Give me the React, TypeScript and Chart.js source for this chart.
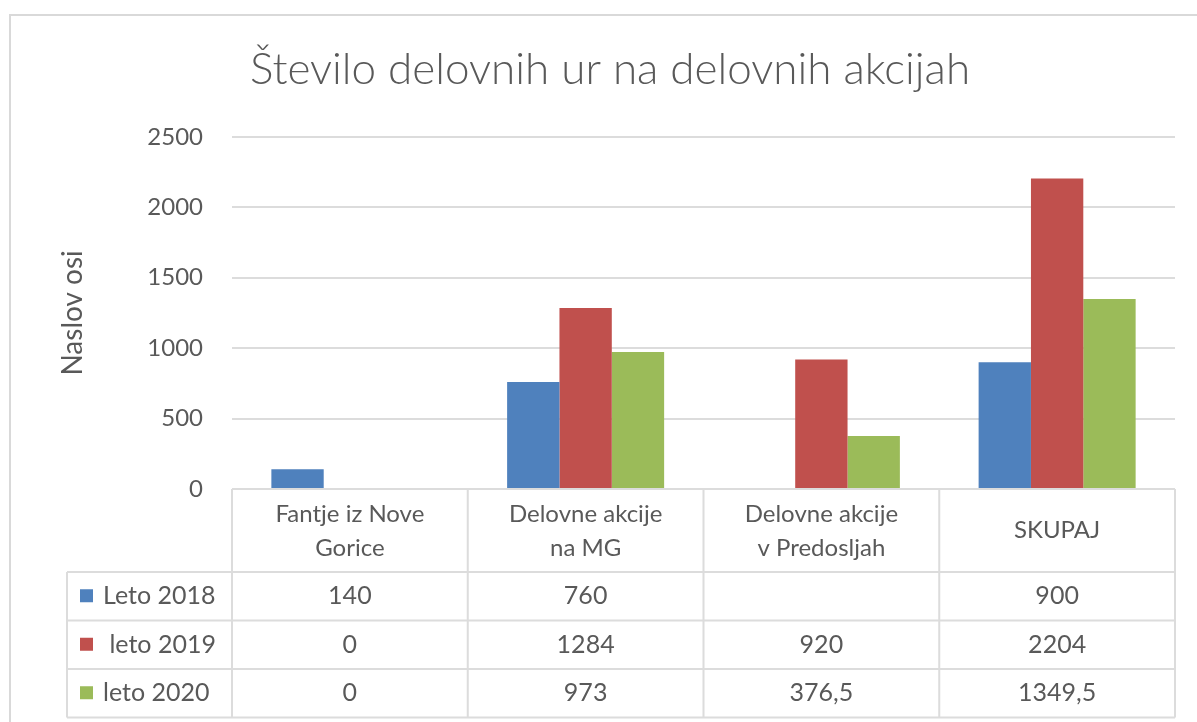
import React, { useEffect, useRef } from 'react';
import { Chart, registerables } from 'chart.js';

Chart.register(...registerables);

const chartTitle = 'Število delovnih ur na delovnih akcijah';
const axisTitle = 'Naslov osi';
const categories: string[][] = [
  ['Fantje iz Nove', 'Gorice'],
  ['Delovne akcije', 'na MG'],
  ['Delovne akcije', 'v Predosljah'],
  ['SKUPAJ'],
];
const seriesLabels = ['Leto 2018', ' leto 2019', 'leto 2020'];
const leto2018: (number | null)[] = [140, 760, null, 900];
const leto2019: (number | null)[] = [0, 1284, 920, 2204];
const leto2020: (number | null)[] = [0, 973, 376.5, 1349.5];
const yTicks = [0, 500, 1000, 1500, 2000, 2500];

const seriesValues = [leto2018, leto2019, leto2020];
const seriesColors = ['#4F81BD', '#C0504D', '#9BBB59'];

const TEXT = '#595959';
const LINE = '#DCDCDC';
const FONT = 'Lato, "Open Sans", sans-serif';

const fmt = (v: number | null) => (v === null ? '' : String(v).replace('.', ','));

const framePlugin = {
  id: 'frame',
  beforeDraw(chart: any) {
    const ctx = chart.ctx;
    ctx.save();
    ctx.fillStyle = '#FFFFFF';
    ctx.fillRect(0, 0, chart.width, chart.height);
    ctx.strokeStyle = '#D9D9D9';
    ctx.lineWidth = 2;
    ctx.strokeRect(10, 15, chart.width + 20, chart.height + 20);
    ctx.restore();
  },
};

const tablePlugin = {
  id: 'dataTable',
  afterDraw(chart: any) {
    const ctx = chart.ctx;
    const area = chart.chartArea;
    const xs = chart.scales.x;
    const n = categories.length;
    const colW = (area.right - area.left) / n;
    const top = area.bottom;
    const headerBottom = top + 83;
    const rowH = 48.5;
    const rows = seriesValues.length;
    const bottom = headerBottom + rowH * rows;
    const tableLeft = 67;

    ctx.save();
    ctx.strokeStyle = LINE;
    ctx.lineWidth = 2;
    ctx.beginPath();
    ctx.moveTo(area.left, top);
    ctx.lineTo(area.right, top);
    for (let r = 0; r <= rows; r++) {
      const y = headerBottom + r * rowH;
      ctx.moveTo(tableLeft, y);
      ctx.lineTo(area.right, y);
    }
    for (let i = 0; i <= n; i++) {
      const x = area.left + i * colW;
      ctx.moveTo(x, top);
      ctx.lineTo(x, bottom);
    }
    ctx.moveTo(tableLeft, headerBottom);
    ctx.lineTo(tableLeft, bottom);
    ctx.stroke();

    ctx.fillStyle = TEXT;
    ctx.font = `24px ${FONT}`;
    ctx.textBaseline = 'middle';
    ctx.textAlign = 'center';
    const hc = (top + headerBottom) / 2;
    categories.forEach((lines, i) => {
      const cx = xs.getPixelForValue(i);
      if (lines.length === 1) {
        ctx.fillText(lines[0], cx, hc);
      } else {
        ctx.fillText(lines[0], cx, hc - 16);
        ctx.fillText(lines[1], cx, hc + 18);
      }
    });

    ctx.font = `25px ${FONT}`;
    seriesValues.forEach((vals, r) => {
      const cy = headerBottom + r * rowH + rowH / 2;
      ctx.fillStyle = seriesColors[r];
      ctx.fillRect(80, cy - 7, 13, 13);
      ctx.fillStyle = TEXT;
      ctx.textAlign = 'left';
      ctx.fillText(seriesLabels[r], 103, cy);
      ctx.textAlign = 'center';
      vals.forEach((v, i) => {
        ctx.fillText(fmt(v), xs.getPixelForValue(i), cy);
      });
    });
    ctx.restore();
  },
};

export default function App() {
  const ref = useRef<HTMLCanvasElement | null>(null);

  useEffect(() => {
    if (!ref.current) return;
    const chart = new Chart(ref.current, {
      type: 'bar',
      data: {
        labels: categories.map((c) => c.join(' ')),
        datasets: seriesValues.map((vals, i) => ({
          label: seriesLabels[i],
          data: vals,
          backgroundColor: seriesColors[i],
          borderWidth: 0,
          categoryPercentage: 0.666,
          barPercentage: 1,
        })),
      },
      options: {
        responsive: false,
        animation: false,
        layout: { padding: { left: 45, right: 22, top: 0, bottom: 233 } },
        plugins: {
          legend: { display: false },
          tooltip: { enabled: false },
          title: {
            display: true,
            text: chartTitle,
            color: TEXT,
            font: { family: FONT, size: 44, weight: '300' as any, lineHeight: 1.2 },
            padding: { top: 43, bottom: 41 },
          },
        },
        scales: {
          x: { display: false },
          y: {
            min: yTicks[0],
            max: yTicks[yTicks.length - 1],
            afterBuildTicks: (scale: any) => {
              scale.ticks = yTicks.map((v) => ({ value: v }));
            },
            afterFit: (scale: any) => {
              scale.width = 232 - 45;
            },
            border: { display: false },
            grid: { color: LINE, lineWidth: 2, drawTicks: false },
            ticks: {
              color: TEXT,
              padding: 29,
              font: { family: FONT, size: 24 },
              callback: (v: any) => String(v),
            },
            title: {
              display: true,
              text: axisTitle,
              color: TEXT,
              font: { family: FONT, size: 28 },
              padding: { top: 11, bottom: 0 },
            },
          },
        },
      },
      plugins: [framePlugin, tablePlugin],
    });
    return () => chart.destroy();
  }, []);

  return (
    <div style={{ position: 'absolute', left: 0, top: 0, width: 1197, height: 722 }}>
      <canvas ref={ref} width={1197} height={722} style={{ display: 'block' }} />
    </div>
  );
}
